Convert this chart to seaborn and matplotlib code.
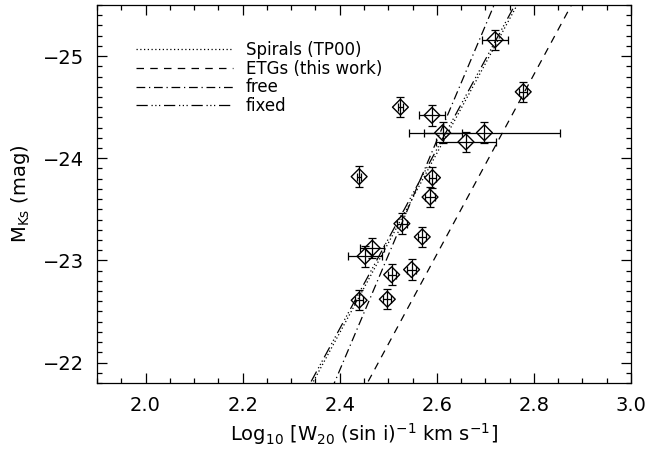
import matplotlib
matplotlib.use("Agg")
import matplotlib.pyplot as plt
import numpy as np
import pandas as pd
import seaborn as sns

# galaxies: log W20/sin i and M_Ks, with errors
logw = [2.720, 2.778, 2.525, 2.590, 2.612, 2.698, 2.660, 2.440, 2.591, 2.586,
        2.528, 2.570, 2.467, 2.452, 2.507, 2.548, 2.440, 2.498]
mks = [-25.16, -24.65, -24.50, -24.42, -24.25, -24.25, -24.16, -23.82, -23.81, -23.62,
       -23.36, -23.23, -23.12, -23.04, -22.86, -22.91, -22.61, -22.62]
logw_err = [0.027, 0.008, 0.006, 0.027, 0.039, 0.155, 0.061, 0.004, 0.008, 0.010,
            0.010, 0.008, 0.025, 0.035, 0.008, 0.010, 0.008, 0.008]
mks_err = [0.10, 0.10, 0.10, 0.10, 0.10, 0.10, 0.10, 0.10, 0.10, 0.10,
           0.10, 0.10, 0.10, 0.10, 0.10, 0.10, 0.10, 0.10]

# fitted relations  M = slope * (logW - 2.5) + zero
line_names = ["Spirals (TP00)", "ETGs (this work)", "free", "fixed"]
line_slopes = [-8.78, -8.80, -11.24, -8.78]
line_zeros = [-23.17, -22.18, -23.05, -23.21]
line_styles = [(0, (1, 2)), (0, (6, 5)), (0, (7, 3, 1, 3)), (0, (9, 3, 1, 2, 1, 2, 1, 3))]

df = pd.DataFrame({"logw": logw, "mks": mks})

sns.set_style("ticks")
plt.rcParams["font.family"] = ["DejaVu Sans"]
plt.rcParams.update({"text.color": "black", "axes.labelcolor": "black",
                     "xtick.color": "black", "ytick.color": "black",
                     "axes.edgecolor": "black"})

fig = plt.figure(figsize=(6.48, 4.53), dpi=100)
ax = fig.add_axes([0.1497, 0.1545, 0.8241, 0.8345])

xx = np.array([1.9, 3.0])
for name, s, z, ls in zip(line_names, line_slopes, line_zeros, line_styles):
    ax.plot(xx, s * (xx - 2.5) + z, color="black", lw=0.9, linestyle=ls, label=name)

ax.errorbar(logw, mks, xerr=logw_err, yerr=mks_err, fmt="none", ecolor="black",
            elinewidth=0.9, capsize=3, capthick=0.9)
sns.scatterplot(data=df, x="logw", y="mks", marker="D", s=65, facecolor="none",
                edgecolor="black", linewidth=1.0, ax=ax, zorder=5)

ax.set_xlim(1.9, 3.0)
ax.set_ylim(-21.8, -25.5)
ax.set_xticks([2.0, 2.2, 2.4, 2.6, 2.8, 3.0])
ax.set_xticks(np.arange(1.9, 3.001, 0.05), minor=True)
ax.set_yticks([-22, -23, -24, -25])
ax.set_yticks(np.arange(-25.5, -21.79, 0.1), minor=True)
ax.set_xticklabels(["2.0", "2.2", "2.4", "2.6", "2.8", "3.0"])
ax.set_yticklabels(["\u221222", "\u221223", "\u221224", "\u221225"])
ax.tick_params(which="both", direction="in", top=True, right=True, labelsize=14, width=0.9)
ax.tick_params(which="major", length=7, pad=9)
ax.tick_params(which="minor", length=3.5)
for sp in ax.spines.values():
    sp.set_linewidth(0.9)

ax.set_xlabel(r"Log$_{10}$ [W$_{20}$ (sin i)$^{-1}$ km s$^{-1}$]", fontsize=14, labelpad=5)
ax.set_ylabel(r"M$_{\mathrm{Ks}}$ (mag)", fontsize=14, labelpad=8)

ax.legend(loc="upper left", frameon=False, fontsize=12, handlelength=5.8,
          handletextpad=0.8, labelspacing=0.05, bbox_to_anchor=(0.045, 0.945))

fig.savefig("out.png", dpi=100)
